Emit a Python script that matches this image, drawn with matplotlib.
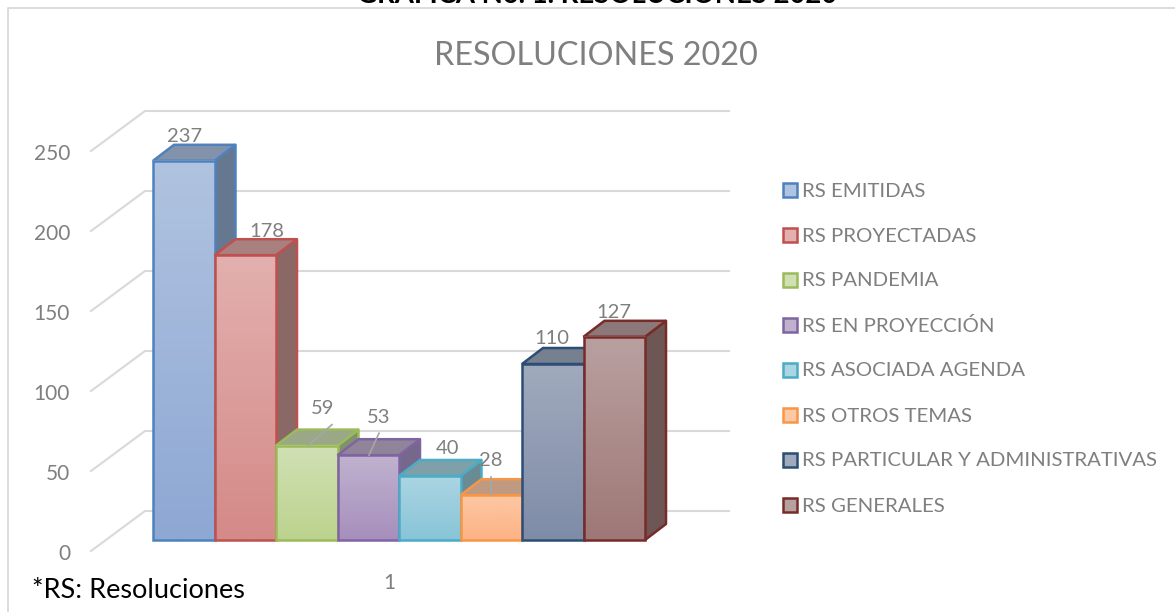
import numpy as np
import matplotlib
matplotlib.use("Agg")
import matplotlib.pyplot as plt
from matplotlib.patches import Polygon, Rectangle

plt.rcParams['font.family'] = ['Lato', 'DejaVu Sans']

labels = ["RS EMITIDAS", "RS PROYECTADAS", "RS PANDEMIA", "RS EN PROYECCIÓN",
          "RS ASOCIADA AGENDA", "RS OTROS TEMAS", "RS PARTICULAR Y ADMINISTRATIVAS", "RS GENERALES"]
values = [237, 178, 59, 53, 40, 28, 110, 127]
yticks = [0, 50, 100, 150, 200, 250]
edge_colors = ["#4f81bd", "#c0504d", "#9bbb59", "#8064a2", "#4bacc6", "#f79646", "#2c4d75", "#772c2a"]
top_colors = ["#b0c3e0", "#e2b0ae", "#d0e0b4", "#c0b2cf", "#abd5e2", "#fdc8a4", "#a0aabd", "#b9a0a0"]
bot_colors = ["#8ea8d4", "#d48a88", "#bcd38e", "#a68fbc", "#88c4d8", "#fdb284", "#7f8ca8", "#9e7876"]
roof_colors = ["#8392ab", "#a88080", "#9aa888", "#8f8499", "#7f9fa9", "#bf9a80", "#77808e", "#8c7878"]
side_colors = ["#66788f", "#8a6866", "#7f9270", "#75688a", "#6a8a94", "#a8846a", "#5a6578", "#6e5655"]

W, H = 1175, 612
px = 61.5     # pixels per bar
py = 1.6      # pixels per unit
x0, y0 = 153, 540

fig = plt.figure(figsize=(W/100, H/100), dpi=100)
ax = fig.add_axes([0, 0, 1, 1])
ax.axis("off")

# pixel offsets of the fake 3d
dx = 21/px
dy = 16/py

# chart frame, only top and left fall inside the crop
ax.plot([7.5/W, 7.5/W, 1], [0, 1-7.5/H, 1-7.5/H], transform=ax.transAxes, color="#d9d9d9", lw=1.3, zorder=0)

# gridlines on floor side and back wall
for v in yticks:
    ax.plot([(91-x0)/px, (145-x0)/px, (729-x0)/px],
            [v-11/py, v+29/py, v+29/py], color="#d9d9d9", lw=1.5, zorder=1)
    ax.text((70-x0)/px, v-14/py, str(v), ha="right", va="center", fontsize=15, color="#7f7f7f")

# bars
for i, v in enumerate(values):
    z = 2+i
    ax.add_patch(Polygon([(i+1, 0), (i+1+dx, dy), (i+1+dx, v+dy), (i+1, v)], fc=side_colors[i],
                         ec=edge_colors[i], lw=1.8, zorder=z, joinstyle="round"))
    ax.add_patch(Polygon([(i, v), (i+dx, v+dy), (i+1+dx, v+dy), (i+1, v)], fc=roof_colors[i],
                         ec=edge_colors[i], lw=1.8, zorder=z))
    c1 = np.array(matplotlib.colors.to_rgb(top_colors[i]))
    c2 = np.array(matplotlib.colors.to_rgb(bot_colors[i]))
    t = np.linspace(0, 1, 64)[:, None, None]
    ax.imshow(c1*(1-t)+c2*t, extent=(i, i+1, 0, v), aspect="auto", zorder=z, interpolation="bilinear")
    ax.add_patch(Rectangle((i, 0), 1, v, fc="none", ec=edge_colors[i], lw=1.8, zorder=z+0.1))

ax.set_xlim(-x0/px, (W-x0)/px)
ax.set_ylim((y0-H)/py, y0/py)

# data labels, offsets from the bar top
lab_off = [(32, 24), (52, 24), (47, 37), (41.5, 38), (49, 28), (30.5, 35), (30, 25), (30, 24)]
for i, v in enumerate(values):
    ax.text(i+lab_off[i][0]/px, v+lab_off[i][1]/py, str(v), ha="center", va="center",
            fontsize=14.5, color="#7f7f7f", zorder=20)

# leader lines
ax.plot([2+32/px, 2+56/px], [59, 59+21/py], color="#a6a6a6", lw=1.2, zorder=20)
ax.plot([3+31.5/px, 3+41.5/px], [53, 53+22/py], color="#a6a6a6", lw=1.2, zorder=20)
ax.plot([5+30.5/px, 5+30.5/px], [28, 28+18/py], color="#a6a6a6", lw=1.2, zorder=20)

# title and texts
ax.text((596-x0)/px, (y0-56)/py, "RESOLUCIONES 2020", ha="center", va="center", fontsize=23.3, color="#7f7f7f")
ax.text((597-x0)/px, (y0-3)/py, "GRÁFICA No. 1. RESOLUCIONES 2020", ha="center", va="baseline",
        fontsize=19.8, fontweight="bold", color="black", zorder=20)
ax.text((32-x0)/px, (y0-591)/py, "*RS: Resoluciones", ha="left", va="center", fontsize=19.5, color="black", zorder=20)
ax.text((389-x0)/px, (y0-583)/py, "1", ha="center", va="center", fontsize=15, color="#7f7f7f")

# legend
for i, lab in enumerate(labels):
    y = y0-189.5-i*45
    ax.add_patch(Rectangle(((782.5-x0)/px, (y-7)/py), 14/px, 14/py, fc=top_colors[i], ec=edge_colors[i], lw=1.8, zorder=5))
    ax.text((802-x0)/px, (y-1.5)/py, lab, ha="left", va="center", fontsize=14.7, color="#7f7f7f")

fig.savefig("out.png", dpi=100)
